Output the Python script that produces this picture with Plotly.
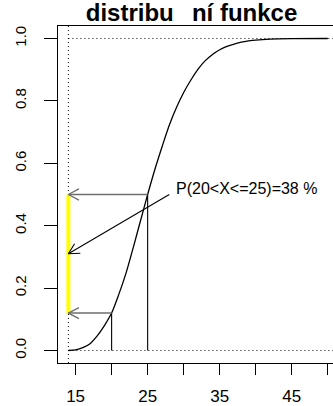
import math
import plotly.graph_objects as go

# ---- data ----
x_vals = [14, 15, 16, 17, 18, 19, 20, 21, 22, 23, 24, 25, 26, 27, 28, 29, 30,
          31, 32, 33, 34, 35, 36, 37, 38, 39, 40, 42, 45, 50]
F_vals = [0.000, 0.002, 0.009, 0.022, 0.047, 0.080, 0.120, 0.180, 0.248, 0.330,
          0.415, 0.500, 0.580, 0.653, 0.722, 0.779, 0.827, 0.867, 0.902, 0.929,
          0.949, 0.964, 0.975, 0.982, 0.988, 0.992, 0.995, 0.998, 0.9995, 1.000]
x_left = 14            # lower bound of the support (dotted reference line)
a_val, b_val = 20, 25  # interval bounds
F_a, F_b = 0.12, 0.50  # F(20), F(25)
label_text = "P(20<X<=25)=38 %"
label_x, label_y = 28.0, 0.50
title_text = "distribu\u00a0\u00a0\u2009ní funkce"
x_ticks = [15, 20, 25, 30, 35, 40, 45, 50]
x_ticktext = ["15", "", "25", "", "35", "", "45", ""]
y_ticks = [0.0, 0.2, 0.4, 0.6, 0.8, 1.0]
y_ticktext = ["0.0", "0.2", "0.4", "0.6", "0.8", "1.0"]

# ---- layout geometry ----
W, H = 333, 406
ml, mr, mt, mb = 57.5, 0, 25.7, 37.7
xr = [12.56, 50.72]
yr = [-0.04, 1.04]
sx = (W - ml - mr) / (xr[1] - xr[0])
sy = (H - mt - mb) / (yr[1] - yr[0])

FONT = "Liberation Sans, Arial, Helvetica, sans-serif"

def head(x0, y0, x1, y1, L=12.0, ang=28.0):
    """open V arrow head at (x1, y1) for a shaft coming from (x0, y0)"""
    dxp = (x0 - x1) * sx
    dyp = (y0 - y1) * sy
    th = math.atan2(dyp, dxp)
    a = math.radians(ang)
    pts_x, pts_y = [], []
    for s in (1, -1):
        pts_x.append(x1 + L * math.cos(th + s * a) / sx)
        pts_y.append(y1 + L * math.sin(th + s * a) / sy)
    return [pts_x[0], x1, pts_x[1]], [pts_y[0], y1, pts_y[1]]

fig = go.Figure()

# dotted reference lines
fig.add_trace(go.Scatter(x=[x_left, x_left], y=[yr[0], yr[1]], mode="lines",
                         line=dict(color="black", width=1, dash="1px,3px"),
                         hoverinfo="skip", showlegend=False))
for yy in (0.0, 1.0):
    fig.add_trace(go.Scatter(x=[x_left, xr[1]], y=[yy, yy], mode="lines",
                             line=dict(color="black", width=1, dash="1px,3px"),
                             hoverinfo="skip", showlegend=False))

# yellow segment
fig.add_trace(go.Scatter(x=[x_left, x_left], y=[F_a, F_b], mode="lines",
                         line=dict(color="#ffff00", width=4),
                         hoverinfo="skip", showlegend=False))

# CDF curve
fig.add_trace(go.Scatter(x=x_vals, y=F_vals, mode="lines",
                         line=dict(color="black", width=1.3, shape="spline", smoothing=0.8),
                         hoverinfo="skip", showlegend=False))

# vertical lines at a and b
for xv, fv in ((a_val, F_a), (b_val, F_b)):
    fig.add_trace(go.Scatter(x=[xv, xv], y=[0, fv], mode="lines",
                             line=dict(color="black", width=1.1),
                             hoverinfo="skip", showlegend=False))

# gray horizontal arrows
for xv, fv in ((a_val, F_a), (b_val, F_b)):
    hx, hy = head(xv, fv, x_left, fv)
    fig.add_trace(go.Scatter(x=[xv, x_left], y=[fv, fv], mode="lines",
                             line=dict(color="#6e6e6e", width=1.6),
                             hoverinfo="skip", showlegend=False))
    fig.add_trace(go.Scatter(x=hx, y=hy, mode="lines",
                             line=dict(color="#6e6e6e", width=1.4),
                             hoverinfo="skip", showlegend=False))

# black diagonal arrow from label to middle of the yellow segment
mid = (F_a + F_b) / 2
hx, hy = head(label_x, label_y, x_left, mid)
fig.add_trace(go.Scatter(x=[label_x, x_left], y=[label_y, mid], mode="lines",
                         line=dict(color="black", width=1.1),
                         hoverinfo="skip", showlegend=False))
fig.add_trace(go.Scatter(x=hx, y=hy, mode="lines",
                         line=dict(color="black", width=1.1),
                         hoverinfo="skip", showlegend=False))

fig.add_annotation(x=label_x + 0.7, y=label_y + 0.02, text=label_text, showarrow=False,
                   xanchor="left", yanchor="middle",
                   font=dict(family=FONT, size=16, color="black"))

fig.update_layout(
    width=W, height=H,
    margin=dict(l=ml, r=mr, t=mt, b=mb, pad=0),
    paper_bgcolor="white", plot_bgcolor="white",
    title=dict(text="<b>" + title_text + "</b>", x=191.5 / W, xref="container",
               xanchor="center", y=1 - 12.5 / H, yref="container", yanchor="middle",
               font=dict(family=FONT, size=24, color="black")),
    xaxis=dict(range=xr, tickvals=x_ticks, ticktext=x_ticktext,
               showgrid=False, zeroline=False, showline=True, mirror=True,
               linecolor="black", linewidth=1.3,
               ticks="outside", ticklen=11, tickwidth=1, tickcolor="black",
               ticklabelstandoff=6,
               tickfont=dict(family=FONT, size=17, color="black")),
    yaxis=dict(range=yr, tickvals=y_ticks, ticktext=y_ticktext,
               showgrid=False, zeroline=False, showline=True, mirror=False,
               linecolor="black", linewidth=1.3,
               ticks="outside", ticklen=13, tickwidth=1, tickcolor="black",
               tickangle=-90, ticklabelstandoff=12,
               tickfont=dict(family=FONT, size=15, color="black")),
)

fig.write_html("out.html", config={"displayModeBar": False},
               post_script="document.body.style.margin='0';")
